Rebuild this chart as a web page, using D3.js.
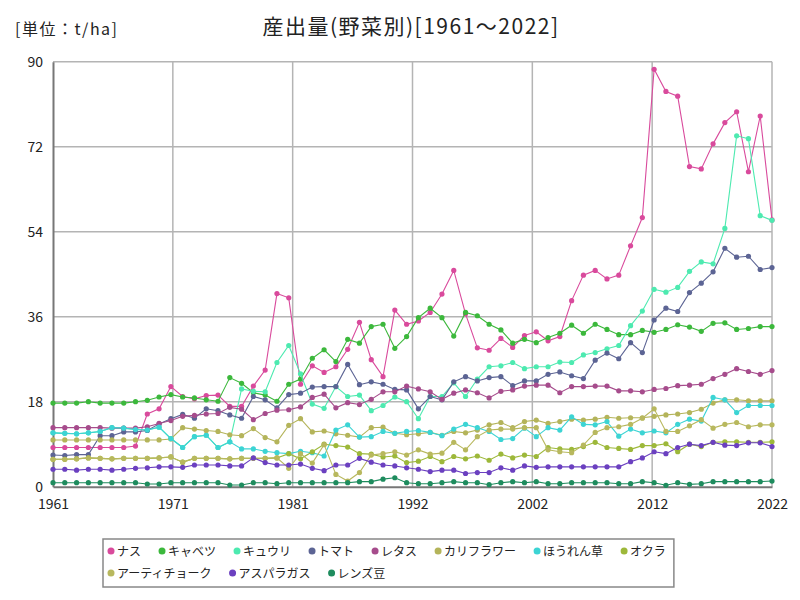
<!DOCTYPE html>
<html><head><meta charset="utf-8">
<script src="https://cdn.jsdelivr.net/npm/d3@7"></script>
<style>body{margin:0;background:#fff;}svg{display:block;font-family:"Noto Sans CJK JP","Noto Sans",sans-serif;}</style>
</head><body><svg id="c" width="800" height="600"></svg>
<script>
const years = [1961,1962,1963,1964,1965,1966,1967,1968,1969,1970,1971,1972,1973,1974,1975,1976,1977,1978,1979,1980,1981,1982,1983,1984,1985,1986,1987,1988,1989,1990,1991,1992,1993,1994,1995,1996,1997,1998,1999,2000,2001,2002,2003,2004,2005,2006,2007,2008,2009,2010,2011,2012,2013,2014,2015,2016,2017,2018,2019,2020,2021,2022];
const seriesNames = ["ナス","キャベツ","キュウリ","トマト","レタス","カリフラワー","ほうれん草","オクラ","アーティチョーク","アスパラガス","レンズ豆"];
const seriesColors = ["#d94a9c","#3cb83c","#4deab0","#5c6494","#a64c8c","#b4b45a","#3cd4d4","#9db83a","#b8b85e","#6b40c0","#1e8c5e"];
const nasu = [8.3,8.3,8.3,8.3,8.3,8.3,8.3,8.6,15.4,16.5,21.2,19.1,18.6,19.3,19.4,17.0,17.0,21.3,24.7,40.9,40.0,21.7,25.6,24.2,25.4,29.1,34.8,26.9,23.3,37.4,34.4,35.1,36.9,40.8,45.8,36.6,29.4,28.9,31.4,29.5,32.0,32.8,30.9,31.8,39.4,44.8,45.8,44.0,44.8,51.0,57.0,88.4,83.7,82.7,67.8,67.3,72.6,77.1,79.4,66.7,78.5,56.5];
const kyabetsu = [17.7,17.7,17.7,18.0,17.7,17.7,17.7,18.0,18.3,19.0,19.5,19.0,18.8,18.4,18.1,23.1,21.9,19.9,19.4,18.1,21.7,22.8,27.2,29.0,26.5,31.2,30.4,33.9,34.4,29.3,31.8,35.8,37.8,35.8,31.9,36.9,36.2,34.4,33.2,30.4,31.2,30.5,31.6,32.5,34.2,32.5,34.4,33.3,32.2,32.2,33.1,32.7,33.3,34.3,33.8,32.9,34.6,34.7,33.3,33.5,33.9,33.9];
const kyuri = [11.4,11.3,11.2,11.4,11.7,12.5,12.4,12.1,12.0,12.6,10.2,8.3,10.6,10.9,8.3,9.5,20.7,20.2,20.1,26.3,29.9,23.9,17.5,16.6,21.2,19.1,19.4,16.1,17.2,19.0,18.0,14.4,19.1,19.1,22.0,19.1,22.8,25.4,25.6,26.3,25.0,25.4,25.4,26.4,26.3,27.9,28.4,29.2,29.9,34.1,37.2,41.8,41.2,42.2,45.6,47.6,47.2,54.7,74.3,73.7,57.4,56.4];
const tomato = [6.7,6.6,6.8,6.8,10.8,10.8,11.6,11.6,11.9,13.3,14.4,15.3,14.5,16.5,16.1,15.2,14.5,19.1,18.4,16.7,19.5,19.8,21.1,21.2,21.2,25.9,21.6,22.2,21.7,20.6,20.5,16.5,19.1,18.4,22.2,23.3,22.4,23.1,23.3,21.4,22.4,22.4,23.8,24.3,23.5,22.9,26.8,28.3,27.1,30.5,28.4,35.3,37.8,37.1,41.1,43.1,45.5,50.5,48.6,48.8,46.0,46.4];
const retasu = [12.5,12.5,12.5,12.5,12.5,12.4,12.4,12.4,12.7,13.4,14.0,14.9,15.1,15.4,15.5,16.8,16.4,14.2,15.5,16.2,16.3,16.9,18.9,19.6,16.7,17.8,17.4,18.5,20.1,20.1,21.3,20.7,20.1,18.5,19.8,20.5,19.9,18.8,20.2,20.5,21.3,21.5,21.5,19.9,21.2,21.2,21.3,21.3,20.3,20.3,20.1,20.6,20.8,21.4,21.5,21.7,22.9,23.8,25.0,24.4,23.8,24.6];
const karifurawa = [9.9,9.9,9.9,9.9,9.9,9.9,9.9,9.9,9.9,9.9,10.1,12.5,12.2,11.9,11.7,11.0,10.8,12.3,10.4,9.5,13.0,14.4,11.6,11.8,11.2,10.9,10.5,12.5,12.6,11.3,11.0,11.2,11.5,10.9,11.7,11.4,12.0,13.1,13.6,12.5,13.8,14.1,13.4,13.8,14.3,14.1,14.3,14.7,14.5,14.6,14.6,14.9,15.2,15.4,15.7,16.4,17.7,18.4,18.4,18.2,18.2,18.2];
const horenso = [11.4,11.3,11.2,11.4,11.7,12.5,12.4,12.1,12.0,12.6,10.2,8.3,10.6,10.9,8.3,9.5,8.0,8.0,7.5,7.2,7.0,7.5,7.2,6.5,12.0,13.1,10.5,10.6,11.7,11.3,11.7,11.9,11.5,10.8,12.2,13.2,12.5,11.7,10.0,10.2,12.4,10.6,12.5,12.0,14.8,13.2,13.1,13.8,10.7,12.2,11.4,11.8,11.4,13.2,14.3,13.9,18.9,18.4,15.7,17.2,17.2,17.2];
const okura = [5.8,5.8,5.9,6.1,6.0,5.9,6.0,6.0,6.0,6.1,6.3,5.2,6.0,6.0,6.0,5.9,6.0,6.0,6.0,6.1,7.0,5.9,7.4,9.0,8.7,8.4,7.0,6.9,6.3,6.5,5.1,5.4,6.4,5.3,6.4,5.9,6.5,5.6,6.9,6.1,6.7,6.4,8.3,8.0,7.9,8.5,9.4,8.3,8.1,7.9,8.7,8.7,9.1,7.4,9.0,8.5,9.4,9.5,9.5,9.4,9.4,9.5];
const achichoku = [5.8,5.8,5.9,6.1,6.0,5.9,6.0,6.0,6.0,6.1,6.3,5.2,6.0,6.0,6.0,5.9,6.0,6.0,6.0,6.1,3.9,7.0,5.0,8.9,2.6,1.2,3.0,6.7,7.0,7.4,6.7,7.8,6.9,7.1,9.4,7.8,10.6,12.0,12.2,12.2,12.5,12.5,7.8,7.4,7.2,8.8,11.5,12.5,12.7,13.2,14.5,16.5,11.7,11.7,12.9,14.2,12.4,13.2,13.6,12.7,13.1,13.1];
const asuparagasu = [3.7,3.7,3.5,3.7,3.7,3.5,3.7,3.9,4.0,4.2,4.2,4.1,4.6,4.6,4.6,4.4,4.4,6.1,5.1,4.6,4.6,4.8,3.9,3.4,4.6,4.6,6.0,5.2,4.6,4.4,4.0,3.7,3.2,3.5,3.5,2.8,3.0,3.0,4.0,3.5,4.4,4.1,4.2,4.2,4.2,4.2,4.2,4.2,4.2,5.3,6.1,7.4,7.0,8.3,9.0,8.7,9.4,8.8,8.7,9.3,9.3,8.5];
const renzumame = [0.85,0.85,0.85,0.85,0.85,0.85,0.85,0.85,0.57,0.57,0.85,0.85,0.85,0.85,0.85,0.35,0.35,0.85,0.85,0.64,0.85,0.85,0.85,0.85,0.85,0.85,1.07,1.07,1.6,1.9,0.85,0.64,0.64,0.85,1.07,0.85,0.85,0.43,0.85,1.07,0.85,1.07,0.64,0.64,0.85,0.85,0.85,0.85,0.64,0.64,1.07,0.85,0.3,0.85,0.5,0.64,1.07,1.07,1.07,1.07,1.07,1.2];
const seriesValues = [nasu,kyabetsu,kyuri,tomato,retasu,karifurawa,horenso,okura,achichoku,asuparagasu,renzumame];
const yTicks = [0,18,36,54,72,90];
const titleText = "産出量(野菜別)[1961～2022]";
const unitText = "[単位：t/ha]";

const svg = d3.select("#c");
const L = 53, R = 772, T = 61.7, B = 486.7;
const x = d3.scaleLinear().domain([0, years.length - 1]).range([L, R]);
const y = d3.scaleLinear().domain([0, 90]).range([B, T]);
const n = years.length - 1;
const xTickIdx = d3.range(7).map(k => k * n / 6);

const g = svg.append("g");
g.selectAll(".gy").data(yTicks.filter(t => t > 0)).join("line")
  .attr("x1", L).attr("x2", R).attr("y1", d => y(d)).attr("y2", d => y(d))
  .attr("stroke", "#b4b4b4").attr("stroke-width", 1.5);
g.selectAll(".gx").data(xTickIdx.filter(t => t > 0)).join("line")
  .attr("x1", d => x(d)).attr("x2", d => x(d)).attr("y1", T).attr("y2", B)
  .attr("stroke", "#b4b4b4").attr("stroke-width", 1.5);

const yAxis = d3.axisLeft(y).tickValues(yTicks).tickSize(0).tickPadding(10);
const ya = svg.append("g").attr("transform", `translate(${L},0)`).call(yAxis);
ya.select(".domain").attr("stroke", "#777").attr("stroke-width", 2);
ya.selectAll("text").attr("font-size", 14).attr("fill", "#222").attr("font-family", "Noto Sans CJK JP");
const xAxis = d3.axisBottom(x).tickValues(xTickIdx).tickSize(0).tickPadding(12)
  .tickFormat(d => years[Math.round(d)]);
const xa = svg.append("g").attr("transform", `translate(0,${B})`).call(xAxis);
xa.select(".domain").attr("stroke", "#777").attr("stroke-width", 2);
xa.selectAll("text").attr("font-size", 14).attr("fill", "#222").attr("font-family", "Noto Sans CJK JP");

const line = d3.line().x((d, i) => x(i)).y(d => y(d));
seriesValues.forEach((vals, si) => {
  const col = seriesColors[si];
  svg.append("path").datum(vals).attr("d", line).attr("fill", "none")
    .attr("stroke", col).attr("stroke-width", 1.1);
  svg.append("g").selectAll("circle").data(vals).join("circle")
    .attr("cx", (d, i) => x(i)).attr("cy", d => y(d)).attr("r", 2.6).attr("fill", col);
});

svg.append("text").attr("x", 411).attr("y", 34).attr("text-anchor", "middle")
  .attr("font-size", 21).attr("letter-spacing", 1.5).attr("fill", "#222").text(titleText);
svg.append("text").attr("x", 15).attr("y", 35).attr("font-size", 16).attr("letter-spacing", 1.5).attr("fill", "#222").text(unitText);

const lg = svg.append("g");
const rows = [seriesNames.slice(0, 8), seriesNames.slice(8)];
let maxX = 0;
rows.forEach((row, ri) => {
  let cx = 111;
  const cy = 551 + ri * 22;
  row.forEach(name => {
    const si = seriesNames.indexOf(name);
    lg.append("circle").attr("cx", cx).attr("cy", cy).attr("r", 3.5).attr("fill", seriesColors[si]);
    const t = lg.append("text").attr("x", cx + 6).attr("y", cy + 4.5).attr("font-size", 12).attr("fill", "#222").text(name);
    const w = t.node().getComputedTextLength();
    maxX = Math.max(maxX, cx + 6 + w);
    cx = cx + 6 + w + 21;
  });
});
lg.insert("rect", ":first-child").attr("x", 103).attr("y", 539).attr("width", maxX - 103 + 8).attr("height", 48)
  .attr("fill", "#fff").attr("stroke", "#888").attr("stroke-width", 1.5);
</script></body></html>
